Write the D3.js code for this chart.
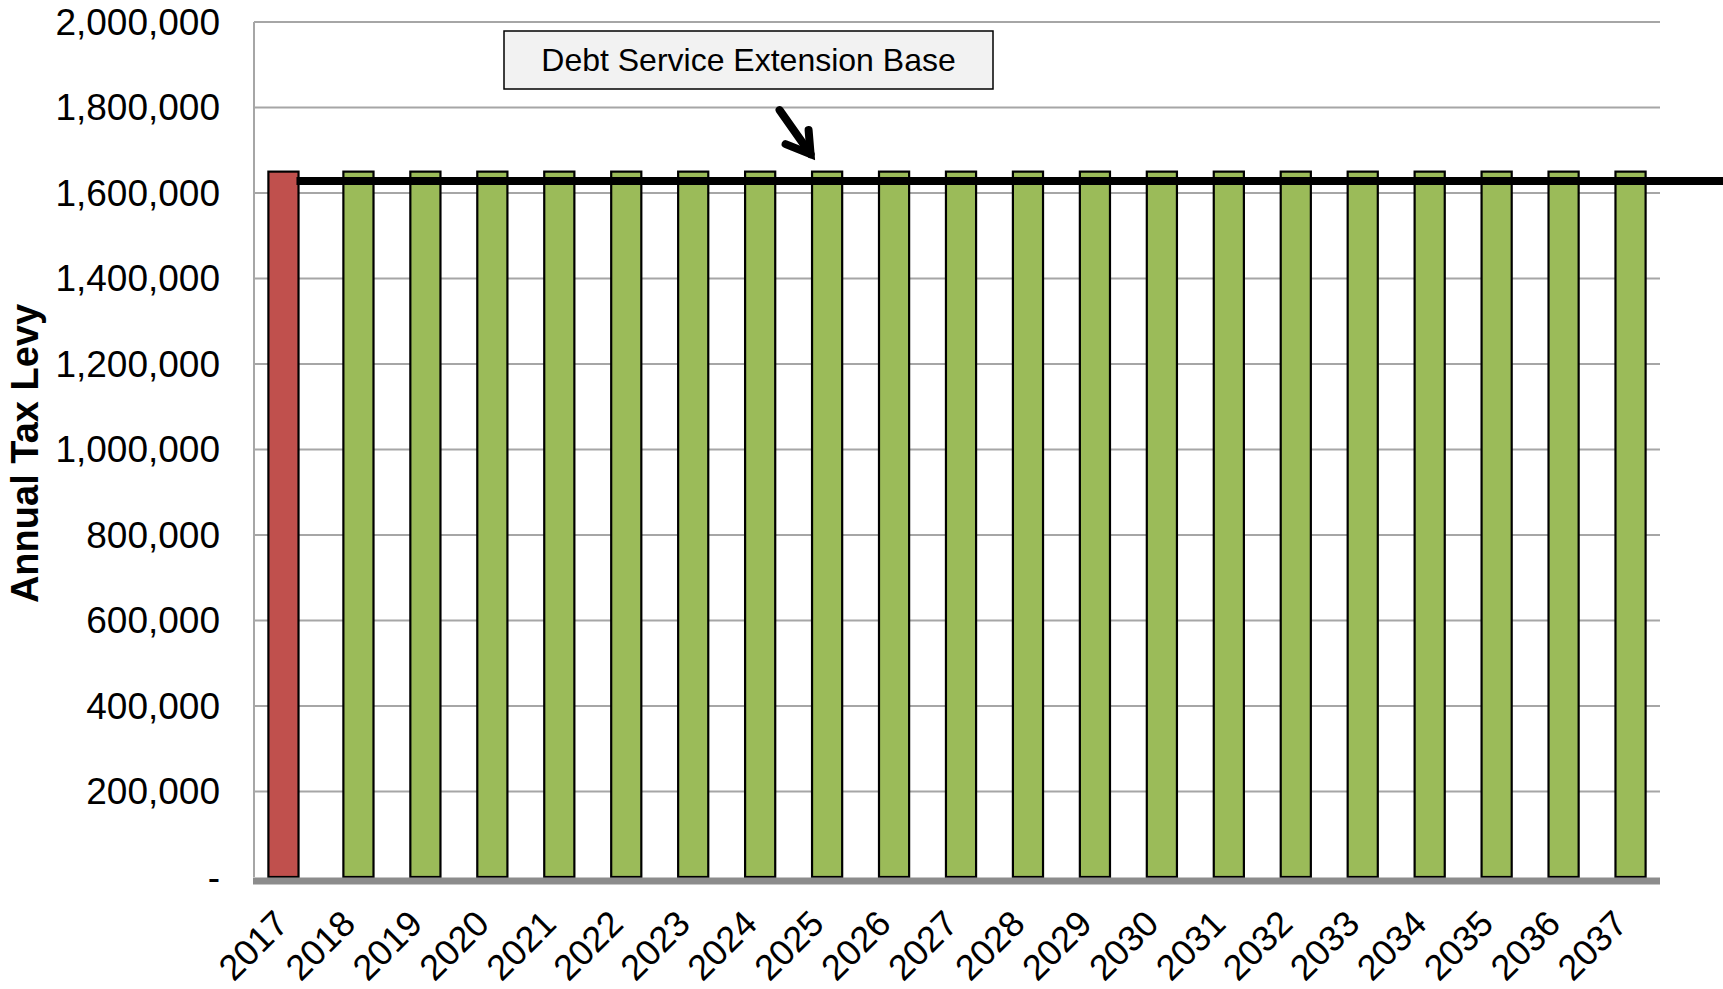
<!DOCTYPE html>
<html>
<head>
<meta charset="utf-8">
<script src="https://cdn.jsdelivr.net/npm/d3@7"></script>
<style>
  body { margin: 0; background: #fff; }
  svg { display: block; font-family: "Liberation Sans", Arial, sans-serif; }
</style>
</head>
<body>
<svg id="levy-chart"></svg>
<script>
// values
var years = ["2017", "2018", "2019", "2020", "2021", "2022", "2023", "2024", "2025", "2026",
             "2027", "2028", "2029", "2030", "2031", "2032", "2033", "2034", "2035", "2036", "2037"];
var actualLevy = [1650000, null, null, null, null, null, null, null, null, null,
                  null, null, null, null, null, null, null, null, null, null, null];
var projectedLevy = [null, 1650000, 1650000, 1650000, 1650000, 1650000, 1650000, 1650000, 1650000, 1650000,
                     1650000, 1650000, 1650000, 1650000, 1650000, 1650000, 1650000, 1650000, 1650000, 1650000, 1650000];
var extensionBase = 1628000;
var yTicks = [0, 200000, 400000, 600000, 800000, 1000000, 1200000, 1400000, 1600000, 1800000, 2000000];
var yTitle = "Annual Tax Levy";
var noteText = "Debt Service Extension Base";

var width = 1723;
var height = 989;
var padding = {
  top: 22,
  right: 63,
  bottom: 112,
  left: 254
};

var svg = d3.select("#levy-chart")
              .attr("width", width)
              .attr("height", height);

var xScale = d3.scaleBand()
               .domain(years)
               .range([padding.left, width - padding.right])
               .padding(0);

var yScale = d3.scaleLinear()
               .domain([0, 2000000])
               .range([height - padding.bottom, padding.top]);

var fmt = d3.format(",");
var barWidth = xScale.bandwidth() * 0.45;
// the two series sit slightly apart inside each category
var seriesShift = xScale.bandwidth() * 0.06;

// gridlines
svg.append("g")
    .selectAll("line")
    .data(yTicks.filter(d => d > 0))
    .enter()
    .append("line")
      .attr("x1", padding.left)
      .attr("x2", width - padding.right)
      .attr("y1", d => yScale(d))
      .attr("y2", d => yScale(d))
      .attr("stroke", "#a6a6a6")
      .attr("stroke-width", 2);

// left axis line
svg.append("line")
    .attr("x1", padding.left)
    .attr("x2", padding.left)
    .attr("y1", yScale(2000000))
    .attr("y2", yScale(0))
    .attr("stroke", "#a6a6a6")
    .attr("stroke-width", 2);

// y tick labels
svg.append("g")
    .selectAll("text")
    .data(yTicks)
    .enter()
    .append("text")
      .attr("x", 220)
      .attr("y", d => yScale(d))
      .attr("dy", "0.35em")
      .attr("text-anchor", "end")
      .attr("font-size", 37)
      .attr("fill", "#000")
      .text(d => d === 0 ? "-" : fmt(d));

// y title
svg.append("text")
    .attr("transform", "translate(38," + ((yScale(0) + yScale(2000000)) / 2 + 4) + ") rotate(-90)")
    .attr("text-anchor", "middle")
    .attr("font-size", 38)
    .attr("font-weight", "bold")
    .text(yTitle);

var barData = [];
years.forEach(function(y, i) {
  if (actualLevy[i] != null) barData.push({ year: y, value: actualLevy[i], shift: -seriesShift, fill: "#c0504d" });
  if (projectedLevy[i] != null) barData.push({ year: y, value: projectedLevy[i], shift: seriesShift, fill: "#9bbb59" });
});

svg.append("g")
    .selectAll(".bar")
    .data(barData)
    .enter()
    .append("rect")
      .classed("bar", true)
      .attr("x", d => xScale(d.year) + xScale.bandwidth() / 2 + d.shift - barWidth / 2)
      .attr("y", d => yScale(d.value))
      .attr("width", barWidth)
      .attr("height", d => yScale(0) - yScale(d.value))
      .attr("fill", d => d.fill)
      .attr("stroke", "#000")
      .attr("stroke-width", 2.2);

// extension base line, runs off the right edge
svg.append("line")
    .attr("x1", xScale(years[0]) + xScale.bandwidth() / 2 + 9)
    .attr("x2", width)
    .attr("y1", yScale(extensionBase))
    .attr("y2", yScale(extensionBase))
    .attr("stroke", "#000")
    .attr("stroke-width", 8);

// bottom axis
svg.append("line")
    .attr("x1", padding.left - 1)
    .attr("x2", width - padding.right)
    .attr("y1", yScale(0) + 4)
    .attr("y2", yScale(0) + 4)
    .attr("stroke", "#8c8c8c")
    .attr("stroke-width", 7);

// x labels
svg.append("g")
    .selectAll("text")
    .data(years)
    .enter()
    .append("text")
      .attr("transform", d => "translate(" + (xScale(d) + xScale.bandwidth() / 2 - 6) + "," + (yScale(0) + 40) + ") rotate(-45)")
      .attr("dy", "0.35em")
      .attr("text-anchor", "end")
      .attr("font-size", 36)
      .text(d => d);

// annotation box and arrow
var boxX = 504, boxY = 31, boxW = 489, boxH = 58;
svg.append("rect")
    .attr("x", boxX)
    .attr("y", boxY)
    .attr("width", boxW)
    .attr("height", boxH)
    .attr("fill", "#f2f2f2")
    .attr("stroke", "#000")
    .attr("stroke-width", 1.5);

svg.append("text")
    .attr("x", boxX + boxW / 2)
    .attr("y", boxY + boxH / 2)
    .attr("dy", "0.35em")
    .attr("text-anchor", "middle")
    .attr("font-size", 32)
    .text(noteText);

// arrow head join point (the miter pokes a few px past it)
var tipX = xScale("2025") + xScale.bandwidth() / 2 - 12.5;
var tipY = yScale(1691000);
svg.append("line")
    .attr("x1", tipX - 31)
    .attr("y1", tipY - 44)
    .attr("x2", tipX)
    .attr("y2", tipY)
    .attr("stroke", "#000")
    .attr("stroke-width", 8)
    .attr("stroke-linecap", "round");

svg.append("path")
    .attr("d", "M" + (tipX - 25) + "," + (tipY - 10) +
               " L" + tipX + "," + tipY +
               " L" + (tipX - 2) + "," + (tipY - 24))
    .attr("fill", "none")
    .attr("stroke", "#000")
    .attr("stroke-width", 8)
    .attr("stroke-linecap", "round")
    .attr("stroke-linejoin", "miter")
    .attr("stroke-miterlimit", 10);
</script>
</body>
</html>
